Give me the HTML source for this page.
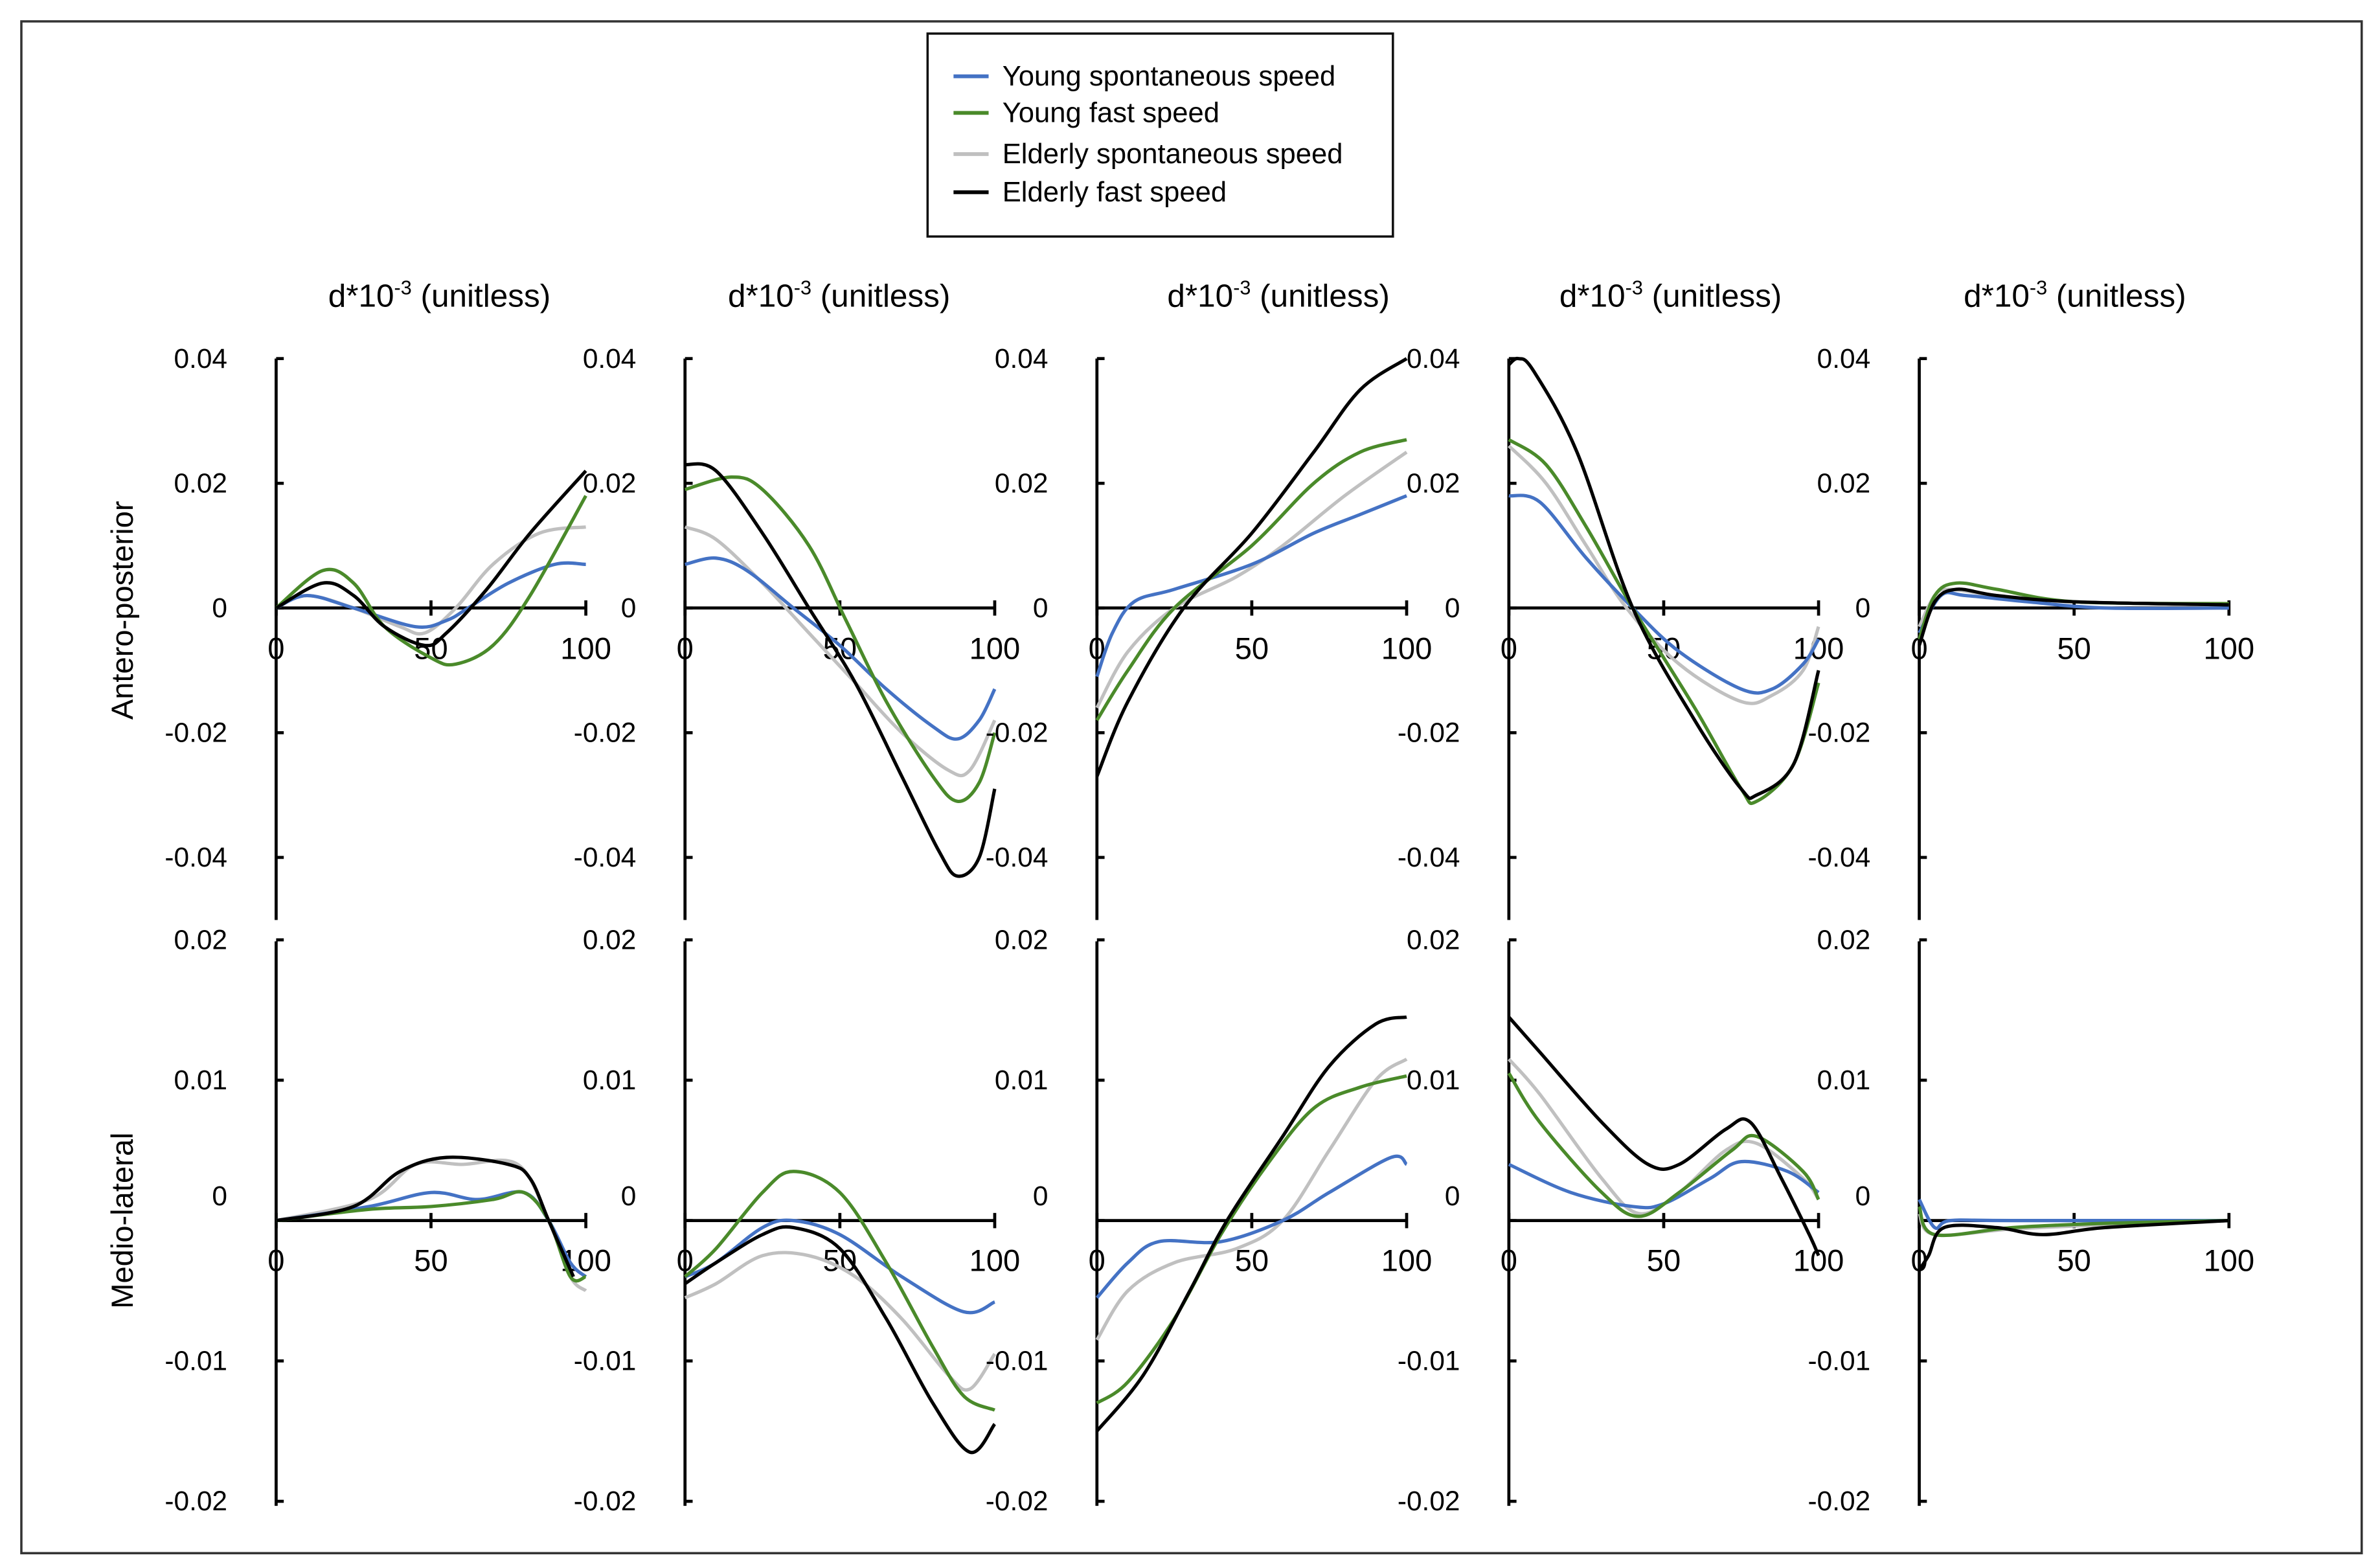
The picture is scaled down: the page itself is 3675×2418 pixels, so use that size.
<!DOCTYPE html>
<html><head><meta charset="utf-8">
<style>
html,body{margin:0;padding:0;background:#fff;}
svg{display:block;font-family:"Liberation Sans",sans-serif;}
</style></head>
<body>
<svg id="fig" width="3675" height="2418" viewBox="0 0 1560 1026.4" xmlns="http://www.w3.org/2000/svg">
<rect x="14" y="14" width="1534" height="1004" fill="#fff" stroke="#333" stroke-width="1.5"/>
<g>
<rect x="608" y="22" width="305" height="133" fill="#fff" stroke="#111" stroke-width="1.5"/>
<line x1="625" y1="50" x2="648" y2="50" stroke="#4472c4" stroke-width="2.5"/>
<text x="657" y="56" font-size="18.5">Young spontaneous speed</text>
<line x1="625" y1="74" x2="648" y2="74" stroke="#4a8a2a" stroke-width="2.5"/>
<text x="657" y="80" font-size="18.5">Young fast speed</text>
<line x1="625" y1="101" x2="648" y2="101" stroke="#c0c0c0" stroke-width="2.5"/>
<text x="657" y="107" font-size="18.5">Elderly spontaneous speed</text>
<line x1="625" y1="126" x2="648" y2="126" stroke="#000" stroke-width="2.5"/>
<text x="657" y="132" font-size="18.5">Elderly fast speed</text>
</g>
<text transform="translate(87,400) rotate(-90)" text-anchor="middle" font-size="20">Antero-posterior</text>
<text transform="translate(87,800) rotate(-90)" text-anchor="middle" font-size="20">Medio-lateral</text>
<g id="plots"></g>
</svg>
<script>
const xTicks = [0, 50, 100];
const apTicks = [0.04, 0.02, 0, -0.02, -0.04];
const apTickLabels = ["0.04", "0.02", "0", "-0.02", "-0.04"];
const mlTicks = [0.02, 0.01, 0, -0.01, -0.02];
const mlTickLabels = ["0.02", "0.01", "0", "-0.01", "-0.02"];
const seriesNames = ["Young spontaneous speed", "Young fast speed", "Elderly spontaneous speed", "Elderly fast speed"];

// AP row
const ap1_x_blue=[0,10,25,45,55,62,75,90,100], ap1_blue=[0,0.002,0,-0.003,-0.002,0,0.004,0.007,0.007];
const ap1_x_green=[0,15,25,35,50,58,70,82,100], ap1_green=[0,0.006,0.004,-0.003,-0.008,-0.009,-0.006,0.002,0.018];
const ap1_x_gray=[0,10,25,40,48,58,70,85,100], ap1_gray=[0,0.002,0,-0.003,-0.004,0,0.007,0.012,0.013];
const ap1_x_black=[0,15,25,35,48,55,68,82,100], ap1_black=[0,0.004,0.002,-0.003,-0.006,-0.004,0.003,0.012,0.022];

const ap2_x_blue=[0,10,20,35,50,65,80,88,95,100], ap2_blue=[0.007,0.008,0.006,0,-0.006,-0.013,-0.019,-0.021,-0.018,-0.013];
const ap2_x_green=[0,15,25,40,52,65,80,88,95,100], ap2_green=[0.019,0.021,0.019,0.01,-0.002,-0.015,-0.027,-0.031,-0.028,-0.02];
const ap2_x_gray=[0,10,25,40,55,70,85,92,100], ap2_gray=[0.013,0.011,0.004,-0.004,-0.012,-0.02,-0.026,-0.026,-0.018];
const ap2_x_black=[0,10,25,40,55,70,82,88,95,100], ap2_black=[0.023,0.022,0.012,0,-0.012,-0.027,-0.039,-0.043,-0.04,-0.029];

const ap3_x_blue=[0,5,12,25,50,70,85,100], ap3_blue=[-0.011,-0.004,0.001,0.003,0.007,0.012,0.015,0.018];
const ap3_x_green=[0,10,25,50,70,85,100], ap3_green=[-0.018,-0.01,0,0.01,0.02,0.025,0.027];
const ap3_x_gray=[0,10,25,45,60,80,100], ap3_gray=[-0.016,-0.007,0,0.005,0.01,0.018,0.025];
const ap3_x_black=[0,10,28,50,70,85,100], ap3_black=[-0.027,-0.015,0,0.012,0.025,0.035,0.04];

const ap4_x_blue=[0,10,25,40,55,75,85,95,100], ap4_blue=[0.018,0.017,0.008,0,-0.007,-0.013,-0.013,-0.009,-0.005];
const ap4_x_green=[0,12,25,40,60,75,80,92,100], ap4_green=[0.027,0.023,0.013,0,-0.016,-0.029,-0.031,-0.025,-0.012];
const ap4_x_gray=[0,12,25,38,55,75,85,95,100], ap4_gray=[0.026,0.02,0.01,0,-0.009,-0.015,-0.014,-0.01,-0.003];
const ap4_x_black=[0,3,8,22,40,60,75,80,92,100], ap4_black=[0.039,0.04,0.038,0.025,0,-0.018,-0.029,-0.03,-0.025,-0.01];

const ap5_x_blue=[0,7,15,35,60,100], ap5_blue=[-0.004,0.002,0.002,0.001,0,0];
const ap5_x_green=[0,5,12,25,50,100], ap5_green=[-0.005,0.002,0.004,0.003,0.001,0.0007];
const ap5_x_gray=[0,5,10,25,50,100], ap5_gray=[-0.003,0.002,0.003,0.002,0.001,0.0005];
const ap5_x_black=[0,5,12,25,50,100], ap5_black=[-0.006,0.001,0.003,0.002,0.001,0.0005];

// ML row
const ml1_x_blue=[0,30,50,65,80,88,95,100], ml1_blue=[0,0.001,0.002,0.0015,0.002,0,-0.003,-0.004];
const ml1_x_green=[0,30,50,70,80,88,95,100], ml1_green=[0,0.0008,0.001,0.0015,0.002,0,-0.004,-0.004];
const ml1_x_gray=[0,30,45,60,78,88,95,100], ml1_gray=[0,0.0015,0.004,0.004,0.004,0,-0.004,-0.005];
const ml1_x_black=[0,25,40,55,75,82,88,96], ml1_black=[0,0.001,0.0035,0.0045,0.004,0.003,0,-0.004];

const ml2_x_blue=[0,10,25,35,50,70,90,100], ml2_blue=[-0.004,-0.003,-0.0005,0,-0.001,-0.004,-0.0065,-0.0058];
const ml2_x_green=[0,10,25,35,50,65,80,90,100], ml2_green=[-0.004,-0.002,0.002,0.0035,0.002,-0.003,-0.009,-0.0125,-0.0135];
const ml2_x_gray=[0,10,25,40,55,70,85,92,100], ml2_gray=[-0.0055,-0.0045,-0.0025,-0.0025,-0.004,-0.007,-0.011,-0.012,-0.0095];
const ml2_x_black=[0,10,25,35,50,65,80,92,100], ml2_black=[-0.0045,-0.003,-0.001,-0.0005,-0.002,-0.007,-0.013,-0.0165,-0.0145];

const ml3_x_blue=[0,10,20,40,60,75,95,100], ml3_blue=[-0.0055,-0.003,-0.0015,-0.0015,0,0.002,0.0045,0.004];
const ml3_x_green=[0,10,25,40,55,70,85,100], ml3_green=[-0.013,-0.0115,-0.007,-0.001,0.004,0.008,0.0095,0.0103];
const ml3_x_gray=[0,10,25,45,60,75,90,100], ml3_gray=[-0.0085,-0.005,-0.003,-0.002,0,0.005,0.01,0.0115];
const ml3_x_black=[0,15,30,42,60,75,90,100], ml3_black=[-0.015,-0.011,-0.005,0,0.006,0.011,0.014,0.0145];

const ml4_x_blue=[0,20,40,50,65,75,90,100], ml4_blue=[0.004,0.002,0.001,0.0012,0.003,0.0042,0.0035,0.002];
const ml4_x_green=[0,10,30,42,55,72,80,95,100], ml4_green=[0.0105,0.007,0.002,0.0003,0.002,0.005,0.006,0.0035,0.0015];
const ml4_x_gray=[0,10,30,42,55,70,80,95,100], ml4_gray=[0.0115,0.009,0.003,0.0005,0.002,0.005,0.0055,0.003,0.0015];
const ml4_x_black=[0,10,30,45,55,70,78,88,97,100], ml4_black=[0.0145,0.012,0.007,0.004,0.004,0.0065,0.007,0.003,-0.001,-0.0025];

const ml5_x_blue=[0,5,10,30,100], ml5_blue=[0.0015,-0.0005,0,0,0];
const ml5_x_green=[0,5,30,60,100], ml5_green=[0.001,-0.001,-0.0005,-0.0002,0];
const ml5_x_gray=[0,5,30,60,100], ml5_gray=[0.0005,-0.001,-0.0006,-0.0003,0];
const ml5_x_black=[0,3,8,25,40,60,100], ml5_black=[-0.0035,-0.0025,-0.0005,-0.0005,-0.001,-0.0005,0];

const colors = {blue:"#4472c4", green:"#4a8a2a", gray:"#c0c0c0", black:"#000000"};
const order = ["gray","blue","green","black"];
const panelAxisX = [181, 449, 719, 989, 1258];
const titleX = [288, 550, 838, 1095, 1360];
const NS = "http://www.w3.org/2000/svg";
const root = document.getElementById("plots");

function el(tag, attrs, parent){
  const e = document.createElementNS(NS, tag);
  for (const k in attrs) e.setAttribute(k, attrs[k]);
  parent.appendChild(e);
  return e;
}
function smoothPath(pts){
  let d = "M" + pts[0][0].toFixed(2) + "," + pts[0][1].toFixed(2);
  for (let i=0;i<pts.length-1;i++){
    const p0=pts[Math.max(0,i-1)], p1=pts[i], p2=pts[i+1], p3=pts[Math.min(pts.length-1,i+2)];
    const c1=[p1[0]+(p2[0]-p0[0])/6, p1[1]+(p2[1]-p0[1])/6];
    const c2=[p2[0]-(p3[0]-p1[0])/6, p2[1]-(p3[1]-p1[1])/6];
    d += " C"+c1[0].toFixed(2)+","+c1[1].toFixed(2)+" "+c2[0].toFixed(2)+","+c2[1].toFixed(2)+" "+p2[0].toFixed(2)+","+p2[1].toFixed(2);
  }
  return d;
}

const rows = [
  {key:"ap", zeroY:398.5, pxPerUnit:4087, top:235, bottom:603, ticks:apTicks, labels:apTickLabels, xLabelY:432, zeroOff:0},
  {key:"ml", zeroY:800, pxPerUnit:9200, top:617, bottom:987, ticks:mlTicks, labels:mlTickLabels, xLabelY:833, zeroOff:-16}
];
const dataMap = {
  ap1:{blue:[ap1_x_blue,ap1_blue],green:[ap1_x_green,ap1_green],gray:[ap1_x_gray,ap1_gray],black:[ap1_x_black,ap1_black]},
  ap2:{blue:[ap2_x_blue,ap2_blue],green:[ap2_x_green,ap2_green],gray:[ap2_x_gray,ap2_gray],black:[ap2_x_black,ap2_black]},
  ap3:{blue:[ap3_x_blue,ap3_blue],green:[ap3_x_green,ap3_green],gray:[ap3_x_gray,ap3_gray],black:[ap3_x_black,ap3_black]},
  ap4:{blue:[ap4_x_blue,ap4_blue],green:[ap4_x_green,ap4_green],gray:[ap4_x_gray,ap4_gray],black:[ap4_x_black,ap4_black]},
  ap5:{blue:[ap5_x_blue,ap5_blue],green:[ap5_x_green,ap5_green],gray:[ap5_x_gray,ap5_gray],black:[ap5_x_black,ap5_black]},
  ml1:{blue:[ml1_x_blue,ml1_blue],green:[ml1_x_green,ml1_green],gray:[ml1_x_gray,ml1_gray],black:[ml1_x_black,ml1_black]},
  ml2:{blue:[ml2_x_blue,ml2_blue],green:[ml2_x_green,ml2_green],gray:[ml2_x_gray,ml2_gray],black:[ml2_x_black,ml2_black]},
  ml3:{blue:[ml3_x_blue,ml3_blue],green:[ml3_x_green,ml3_green],gray:[ml3_x_gray,ml3_gray],black:[ml3_x_black,ml3_black]},
  ml4:{blue:[ml4_x_blue,ml4_blue],green:[ml4_x_green,ml4_green],gray:[ml4_x_gray,ml4_gray],black:[ml4_x_black,ml4_black]},
  ml5:{blue:[ml5_x_blue,ml5_blue],green:[ml5_x_green,ml5_green],gray:[ml5_x_gray,ml5_gray],black:[ml5_x_black,ml5_black]}
};

for (let p=0;p<5;p++){
  const t = el("text", {x:titleX[p], y:201, "text-anchor":"middle", "font-size":21}, root);
  
  
  t.appendChild(document.createTextNode("d*10"));
  const sup = el("tspan", {dy:-8, "font-size":13}, t);
  sup.textContent = "-3";
  const rest = el("tspan", {dy:8, "font-size":21}, t);
  rest.textContent = " (unitless)";
}

rows.forEach(function(r){
  for (let p=0;p<5;p++){
    const ax = panelAxisX[p];
    const xs = v => ax + v*2.03;
    const ys = v => r.zeroY - v*r.pxPerUnit;
    const g = el("g", {}, root);
    
    
    const ya = el("line", {x1:ax, y1:r.top, x2:ax, y2:r.bottom, stroke:"#000", "stroke-width":2}, g);
    
    
    r.ticks.forEach(function(tv, i){
      const yy = ys(tv);
      const tk = el("line", {x1:ax, y1:yy, x2:ax+5, y2:yy, stroke:"#000", "stroke-width":2}, g);
      
      
      const lb = el("text", {x:ax-32, y:yy+6 + (tv===0 ? r.zeroOff : 0), "text-anchor":"end", "font-size":18}, g);
      
      
      lb.textContent = r.labels[i];
    });
    const xa = el("line", {x1:ax, y1:ys(0), x2:xs(100), y2:ys(0), stroke:"#000", "stroke-width":2}, g);
    
    
    xTicks.forEach(function(tv){
      const xx = xs(tv);
      const tk = el("line", {x1:xx, y1:ys(0)-5, x2:xx, y2:ys(0)+5, stroke:"#000", "stroke-width":2}, g);
      
      
      const lb = el("text", {x:xx, y:r.xLabelY, "text-anchor":"middle", "font-size":20}, g);
      
      
      lb.textContent = String(tv);
    });
    const set = dataMap[r.key + (p+1)];
    order.forEach(function(c){
      const xArr = set[c][0], yArr = set[c][1];
      const pts = xArr.map((xv, i) => [xs(xv), ys(yArr[i])]);
      const path = el("path", {d:smoothPath(pts), fill:"none", stroke:colors[c], "stroke-width":2.2, "stroke-linejoin":"round"}, g);
      
      
    });
  }
});
</script>
</body></html>
